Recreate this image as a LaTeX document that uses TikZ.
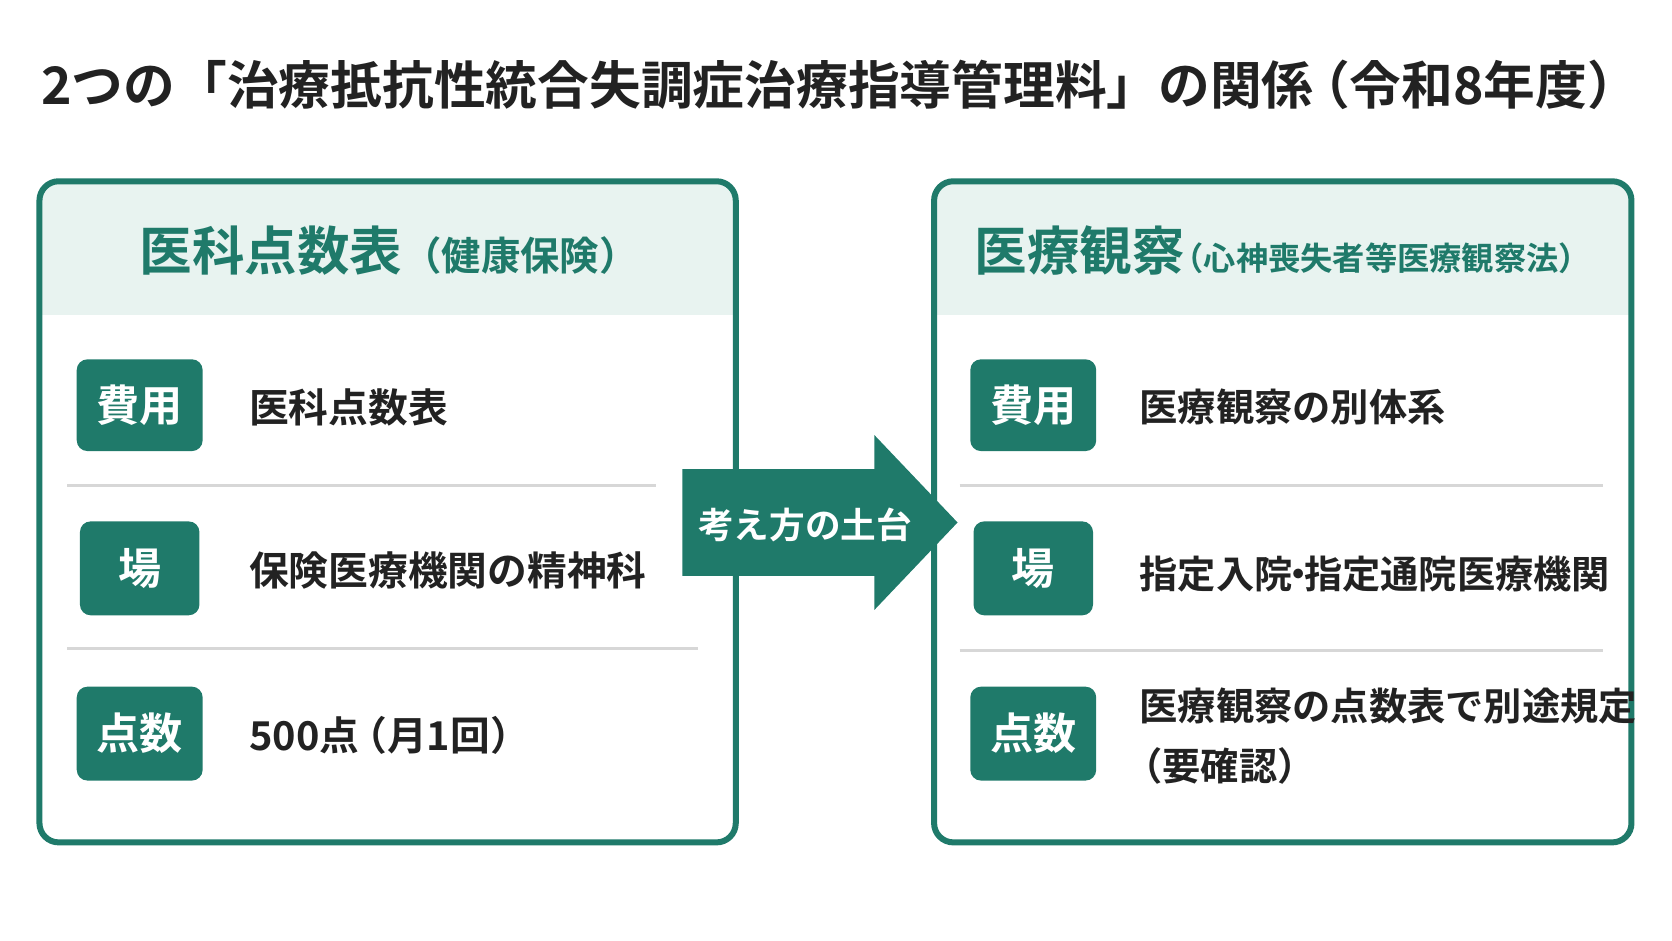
\documentclass[tikz,border=0pt]{standalone}
\usepackage{fontspec}
\setmainfont{Noto Sans CJK JP}[BoldFont={Noto Sans CJK JP Bold}]
\usepackage{tikz}
\usetikzlibrary{shapes.arrows, positioning, calc}
\definecolor{tealdark}{RGB}{31, 122, 106}
\definecolor{teallight}{RGB}{232, 243, 240}
\definecolor{textdark}{RGB}{34, 34, 34}
\definecolor{rulegray}{RGB}{215, 215, 215}

\begin{document}
\begin{tikzpicture}[
    x=0.01cm, y=-0.01cm,
    panel/.style={draw=tealdark, line width=1.6pt, rounded corners=0.18cm},
    badge/.style={rectangle, fill=tealdark, rounded corners=0.1cm, text=white, font=\bfseries\fontsize{11.5}{14}\selectfont, inner sep=0pt},
    item/.style={anchor=west, text=textdark, font=\bfseries\fontsize{10.6}{16}\selectfont, align=left, inner sep=0pt},
    sep/.style={draw=rulegray, line width=0.8pt}
]
\useasboundingbox (0,0) rectangle (1568,882);

% Title
\node[anchor=west, text=textdark, font=\bfseries\fontsize{13.8}{16}\selectfont, inner sep=0pt] (title) at (38,80)
  {2つの「治療抵抗性統合失調症治療指導管理料」の関係\hspace{-0.3em}（令和8年度）};

% Left panel
\begin{scope}
\clip[rounded corners=0.18cm] (37,170) rectangle (690,790);
\fill[teallight] (37,170) rectangle (690,295);
\end{scope}
\draw[panel] (37,170) rectangle (690,790);
\node[text=tealdark, font=\bfseries\fontsize{14}{17}\selectfont] (lhead) at (365,235)
  {医科点数表{\fontsize{10.5}{13}\selectfont （健康保険）}};

\node[badge, minimum width=1.18cm, minimum height=0.86cm] (lcost) at (131,380) {費用};
\node[badge, minimum width=1.12cm, minimum height=0.88cm] (lplace) at (131,533) {場};
\node[badge, minimum width=1.18cm, minimum height=0.88cm] (lpts) at (131,688) {点数};
\node[item] (lcostt) at (233,382) {医科点数表};
\node[item] (lplacet) at (233,535) {保険医療機関の精神科};
\node[item] (lptst) at (233,690) {500点\hspace{-0.3em}（月1回）};
\draw[sep] (63,455) -- (615,455);
\draw[sep] (63,608) -- (655,608);

% Right panel
\begin{scope}
\clip[rounded corners=0.18cm] (876,170) rectangle (1530,790);
\fill[teallight] (876,170) rectangle (1530,295);
\end{scope}
\draw[panel] (876,170) rectangle (1530,790);
\node[text=tealdark, font=\bfseries\fontsize{14}{17}\selectfont] (rhead) at (1203,235)
  {医療観察{\fontsize{8.6}{11}\selectfont \hspace{-0.4em}（心神喪失者等医療観察法）}};

\node[badge, minimum width=1.18cm, minimum height=0.86cm] (rcost) at (969,380) {費用};
\node[badge, minimum width=1.12cm, minimum height=0.88cm] (rplace) at (969,533) {場};
\node[badge, minimum width=1.18cm, minimum height=0.88cm] (rpts) at (969,688) {点数};
\node[item, font=\bfseries\fontsize{10.2}{16}\selectfont] (rcostt) at (1068,382) {医療観察の別体系};
\node[item, font=\bfseries\fontsize{10.2}{16}\selectfont] (rplacet) at (1068,538) {指定入院\hspace{-0.35em}・\hspace{-0.35em}指定通院医療機関};
\node[item, font=\bfseries\fontsize{10.2}{16}\selectfont] (rptst) at (1068,690) {医療観察の点数表で別途規定\\\hspace{-0.4em}（要確認）};
\draw[sep] (900,455) -- (1503,455);
\draw[sep] (900,610) -- (1503,610);

% Arrow
\fill[tealdark] (640,440) -- (820,440) -- (820,408) -- (898,490) -- (820,572) -- (820,540) -- (640,540) -- cycle;
\node[text=white, font=\bfseries\fontsize{9.5}{12}\selectfont] (base) at (755,492) {考え方の土台};
\end{tikzpicture}
\end{document}
